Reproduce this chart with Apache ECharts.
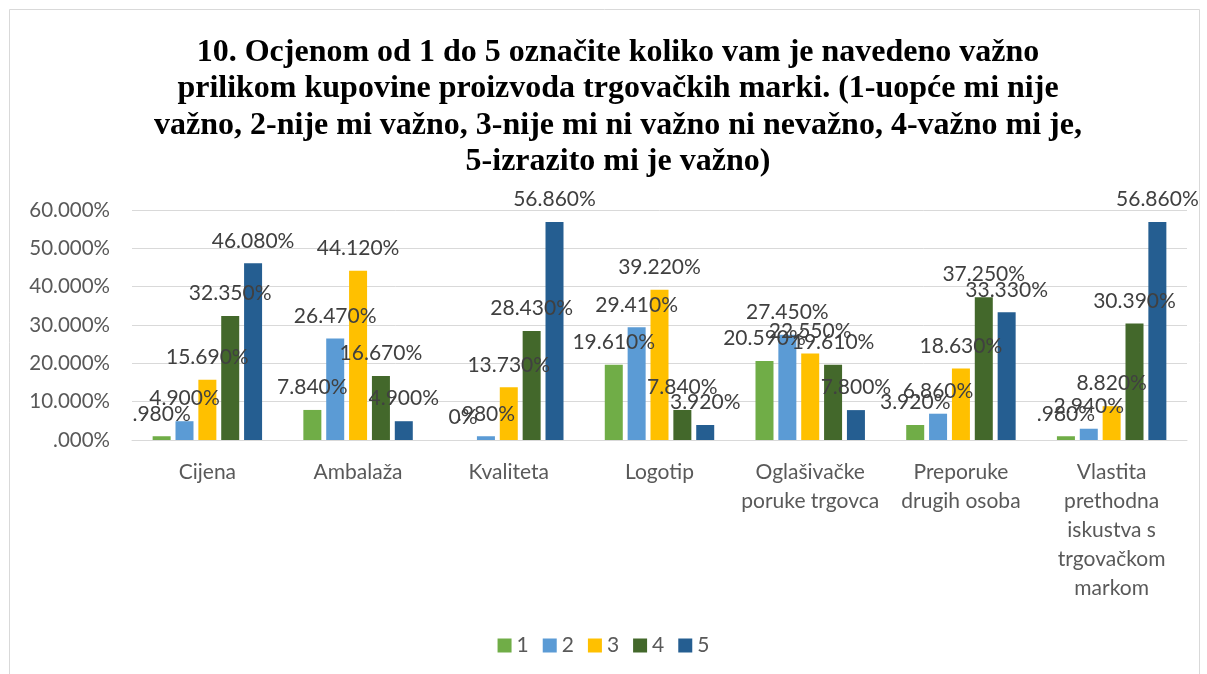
<!DOCTYPE html>
<html>
<head>
<meta charset="utf-8">
<script src="https://cdn.jsdelivr.net/npm/echarts@6/dist/echarts.min.js"></script>
<style>
  html, body { margin: 0; padding: 0; background: #fff; }
  #chart { width: 1207px; height: 674px; }
</style>
</head>
<body>
<div id="chart"></div>
<script>
  // podaci sa slike (postoci)
  var categories = ['Cijena', 'Ambalaža', 'Kvaliteta', 'Logotip',
    'Oglašivačke\nporuke trgovca', 'Preporuke\ndrugih osoba',
    'Vlastita\nprethodna\niskustva s\ntrgovačkom\nmarkom']
  var ocjena1 = [0.98, 7.84, 0, 19.61, 20.59, 3.92, 0.98]
  var ocjena2 = [4.9, 26.47, 0.98, 29.41, 27.45, 6.86, 2.94]
  var ocjena3 = [15.69, 44.12, 13.73, 39.22, 22.55, 18.63, 8.82]
  var ocjena4 = [32.35, 16.67, 28.43, 7.84, 19.61, 37.25, 30.39]
  var ocjena5 = [46.08, 4.9, 56.86, 3.92, 7.8, 33.33, 56.86]
  var seriesNames = ['1', '2', '3', '4', '5']
  var colors = ['#70AD47', '#5B9BD5', '#FFC000', '#43682B', '#255E91']

  var font = 'Lato, "Open Sans", sans-serif'

  function pct(v) {
    if (v === 0) return '.000%'
    var s = v.toFixed(3) + '%'
    return s.charAt(0) === '0' ? s.slice(1) : s
  }

  function makeSeries(name, data, color) {
    return {
      name: name,
      type: 'bar',
      data: data,
      barWidth: 18,
      barGap: '27%',
      itemStyle: {color: color},
      label: {
        show: true,
        position: 'top',
        distance: 12,
        color: '#404040',
        fontFamily: font,
        fontSize: 21,
        formatter: function (p) {
          return p.value === 0 ? '0%' : pct(p.value)
        }
      },
      animation: false
    }
  }

  var chart = echarts.init(document.getElementById('chart'))
  chart.setOption({
    backgroundColor: '#fff',
    color: colors,
    title: {
      text: '10. Ocjenom od 1 do 5 označite koliko vam je navedeno važno\n' +
        'prilikom kupovine proizvoda trgovačkih marki. (1-uopće mi nije\n' +
        'važno, 2-nije mi važno, 3-nije mi ni važno ni nevažno, 4-važno mi je,\n' +
        '5-izrazito mi je važno)',
      left: 613,
      top: 29,
      textAlign: 'center',
      textStyle: {
        fontFamily: '"Liberation Serif", "Times New Roman", serif',
        fontWeight: 'bold',
        fontSize: 32,
        lineHeight: 36.5,
        color: '#000'
      }
    },
    graphic: [{
      type: 'rect',
      shape: {x: 9.5, y: 9.5, width: 1190, height: 700},
      style: {fill: 'none', stroke: '#d9d9d9', lineWidth: 1},
      silent: true
    }],
    legend: {
      data: seriesNames,
      top: 630,
      left: 'center',
      icon: 'rect',
      itemWidth: 14,
      itemHeight: 14,
      itemGap: 14,
      textStyle: {fontFamily: font, fontSize: 21, color: '#595959'}
    },
    grid: {left: 132, right: 20, top: 210, bottom: 234},
    xAxis: {
      type: 'category',
      data: categories,
      axisTick: {show: false},
      axisLine: {lineStyle: {color: '#d9d9d9', width: 1}},
      axisLabel: {
        interval: 0,
        margin: 18,
        fontFamily: font,
        fontSize: 21,
        lineHeight: 29,
        color: '#595959'
      }
    },
    yAxis: {
      type: 'value',
      min: 0,
      max: 60,
      interval: 10,
      axisLine: {show: false},
      axisTick: {show: false},
      splitLine: {lineStyle: {color: '#d9d9d9', width: 1}},
      axisLabel: {
        margin: 22,
        fontFamily: font,
        fontSize: 20.5,
        color: '#595959',
        formatter: pct
      }
    },
    series: [
      makeSeries(seriesNames[0], ocjena1, colors[0]),
      makeSeries(seriesNames[1], ocjena2, colors[1]),
      makeSeries(seriesNames[2], ocjena3, colors[2]),
      makeSeries(seriesNames[3], ocjena4, colors[3]),
      makeSeries(seriesNames[4], ocjena5, colors[4])
    ]
  })
</script>
</body>
</html>
